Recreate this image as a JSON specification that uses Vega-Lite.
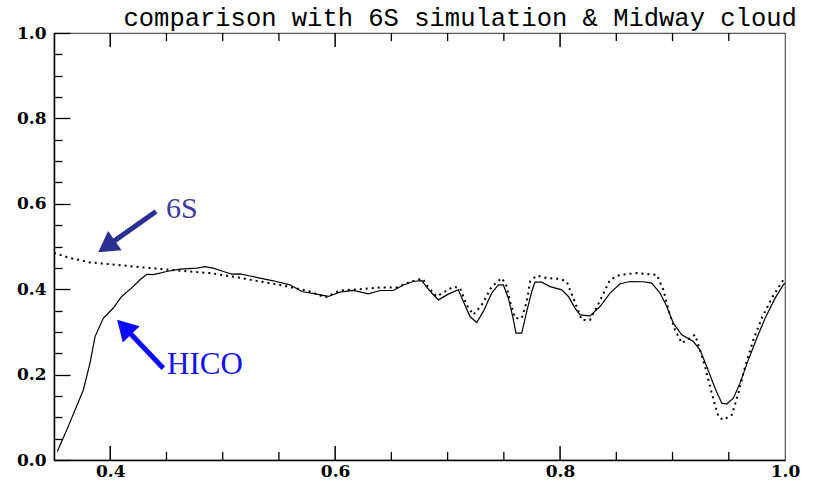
{
  "$schema": "https://vega.github.io/schema/vega-lite/v6.json",
  "width": 731,
  "height": 427,
  "autosize": {"type": "none"},
  "padding": {"left": 54, "top": 33, "right": 41, "bottom": 24},
  "background": "white",
  "title": {"text": "comparison with 6S simulation & Midway cloud", "anchor": "end", "dx": -3, "offset": -7, "font": "Liberation Mono", "fontSize": 25.5, "fontWeight": "normal", "color": "black"},
  "config": {
    "view": {"stroke": "#555", "strokeWidth": 1.2},
    "axis": {"grid": false, "domainColor": "black", "domainWidth": 1.5, "tickColor": "black", "tickWidth": 1.3, "labelFont": "DejaVu Serif", "labelFontWeight": "bold", "labelFontSize": 17, "labelColor": "black", "title": null}
  },
  "datasets": {
    "hico": [
      {"wl": 0.3529, "r": 0.020}, {"wl": 0.3613, "r": 0.070}, {"wl": 0.3687, "r": 0.117}, {"wl": 0.3761, "r": 0.164},
      {"wl": 0.382, "r": 0.227}, {"wl": 0.3865, "r": 0.289}, {"wl": 0.3938, "r": 0.332}, {"wl": 0.4027, "r": 0.356},
      {"wl": 0.4102, "r": 0.383}, {"wl": 0.4191, "r": 0.403}, {"wl": 0.4265, "r": 0.422}, {"wl": 0.4324, "r": 0.435},
      {"wl": 0.4383, "r": 0.434}, {"wl": 0.4502, "r": 0.4415}, {"wl": 0.462, "r": 0.447}, {"wl": 0.4769, "r": 0.4495},
      {"wl": 0.4843, "r": 0.453}, {"wl": 0.4917, "r": 0.4495}, {"wl": 0.5006, "r": 0.4415}, {"wl": 0.508, "r": 0.4354},
      {"wl": 0.5154, "r": 0.436}, {"wl": 0.5243, "r": 0.431}, {"wl": 0.5332, "r": 0.426}, {"wl": 0.545, "r": 0.4197},
      {"wl": 0.5599, "r": 0.4103}, {"wl": 0.5703, "r": 0.3946}, {"wl": 0.5836, "r": 0.3885}, {"wl": 0.5939, "r": 0.383},
      {"wl": 0.6043, "r": 0.393}, {"wl": 0.6162, "r": 0.397}, {"wl": 0.6295, "r": 0.389}, {"wl": 0.6399, "r": 0.397},
      {"wl": 0.6517, "r": 0.397}, {"wl": 0.6606, "r": 0.410}, {"wl": 0.6695, "r": 0.418}, {"wl": 0.677, "r": 0.420},
      {"wl": 0.6814, "r": 0.405}, {"wl": 0.6859, "r": 0.391}, {"wl": 0.6918, "r": 0.375}, {"wl": 0.7006, "r": 0.3885},
      {"wl": 0.7095, "r": 0.3986}, {"wl": 0.714, "r": 0.371}, {"wl": 0.7199, "r": 0.336}, {"wl": 0.7259, "r": 0.322},
      {"wl": 0.7318, "r": 0.348}, {"wl": 0.7392, "r": 0.391}, {"wl": 0.7451, "r": 0.410}, {"wl": 0.7496, "r": 0.410},
      {"wl": 0.754, "r": 0.379}, {"wl": 0.7579, "r": 0.336}, {"wl": 0.7608, "r": 0.297}, {"wl": 0.7659, "r": 0.297},
      {"wl": 0.7704, "r": 0.348}, {"wl": 0.7748, "r": 0.3946}, {"wl": 0.7777, "r": 0.4166}, {"wl": 0.7837, "r": 0.4166},
      {"wl": 0.7911, "r": 0.406}, {"wl": 0.8015, "r": 0.3986}, {"wl": 0.8074, "r": 0.383}, {"wl": 0.8133, "r": 0.3557},
      {"wl": 0.8178, "r": 0.340}, {"wl": 0.8266, "r": 0.3376}, {"wl": 0.8355, "r": 0.3595}, {"wl": 0.8444, "r": 0.391},
      {"wl": 0.8533, "r": 0.4127}, {"wl": 0.8622, "r": 0.418}, {"wl": 0.874, "r": 0.4174}, {"wl": 0.8815, "r": 0.4143},
      {"wl": 0.8889, "r": 0.391}, {"wl": 0.8949, "r": 0.3595}, {"wl": 0.9007, "r": 0.3205}, {"wl": 0.9082, "r": 0.293},
      {"wl": 0.9185, "r": 0.2774}, {"wl": 0.9244, "r": 0.258}, {"wl": 0.9304, "r": 0.219}, {"wl": 0.9378, "r": 0.168},
      {"wl": 0.9438, "r": 0.133}, {"wl": 0.9482, "r": 0.131}, {"wl": 0.9541, "r": 0.1447}, {"wl": 0.96, "r": 0.180},
      {"wl": 0.9674, "r": 0.2345}, {"wl": 0.9749, "r": 0.285}, {"wl": 0.9823, "r": 0.332}, {"wl": 0.9912, "r": 0.379},
      {"wl": 0.9985, "r": 0.410}, {"wl": 1.0, "r": 0.414}
    ],
    "sim": [
      {"wl": 0.35, "r": 0.485}, {"wl": 0.3642, "r": 0.473}, {"wl": 0.382, "r": 0.4627}, {"wl": 0.4058, "r": 0.457},
      {"wl": 0.4294, "r": 0.451}, {"wl": 0.4591, "r": 0.444}, {"wl": 0.4887, "r": 0.4377}, {"wl": 0.5125, "r": 0.428},
      {"wl": 0.5332, "r": 0.418}, {"wl": 0.551, "r": 0.410}, {"wl": 0.5643, "r": 0.4026}, {"wl": 0.5777, "r": 0.3946},
      {"wl": 0.591, "r": 0.3805}, {"wl": 0.6043, "r": 0.397}, {"wl": 0.6221, "r": 0.400}, {"wl": 0.6399, "r": 0.404},
      {"wl": 0.6548, "r": 0.404}, {"wl": 0.6637, "r": 0.414}, {"wl": 0.6725, "r": 0.422}, {"wl": 0.6779, "r": 0.424},
      {"wl": 0.6829, "r": 0.404}, {"wl": 0.6903, "r": 0.383}, {"wl": 0.6977, "r": 0.3946}, {"wl": 0.7051, "r": 0.406},
      {"wl": 0.711, "r": 0.4026}, {"wl": 0.717, "r": 0.363}, {"wl": 0.7229, "r": 0.340}, {"wl": 0.7303, "r": 0.363},
      {"wl": 0.7392, "r": 0.406}, {"wl": 0.7481, "r": 0.426}, {"wl": 0.752, "r": 0.410}, {"wl": 0.7555, "r": 0.371},
      {"wl": 0.76, "r": 0.332}, {"wl": 0.7659, "r": 0.332}, {"wl": 0.7704, "r": 0.371}, {"wl": 0.7733, "r": 0.418},
      {"wl": 0.7793, "r": 0.432}, {"wl": 0.7881, "r": 0.426}, {"wl": 0.80, "r": 0.424}, {"wl": 0.8059, "r": 0.418},
      {"wl": 0.8118, "r": 0.379}, {"wl": 0.8193, "r": 0.328}, {"wl": 0.8266, "r": 0.328}, {"wl": 0.834, "r": 0.365},
      {"wl": 0.8444, "r": 0.422}, {"wl": 0.8533, "r": 0.4338}, {"wl": 0.8682, "r": 0.4377}, {"wl": 0.886, "r": 0.4338},
      {"wl": 0.8918, "r": 0.3986}, {"wl": 0.8963, "r": 0.3517}, {"wl": 0.9022, "r": 0.3048}, {"wl": 0.9082, "r": 0.2736},
      {"wl": 0.9126, "r": 0.2814}, {"wl": 0.92, "r": 0.293}, {"wl": 0.9244, "r": 0.258}, {"wl": 0.9289, "r": 0.219},
      {"wl": 0.9349, "r": 0.156}, {"wl": 0.9408, "r": 0.1015}, {"wl": 0.9452, "r": 0.0938}, {"wl": 0.9527, "r": 0.1055},
      {"wl": 0.9585, "r": 0.156}, {"wl": 0.9645, "r": 0.219}, {"wl": 0.9719, "r": 0.2814}, {"wl": 0.9793, "r": 0.332},
      {"wl": 0.9882, "r": 0.379}, {"wl": 0.9985, "r": 0.422}, {"wl": 1.0, "r": 0.425}
    ],
    "xmajor": [{"t": 0.4}, {"t": 0.6}, {"t": 0.8}],
    "xminor": [{"t": 0.45}, {"t": 0.5}, {"t": 0.55}, {"t": 0.65}, {"t": 0.7}, {"t": 0.75}, {"t": 0.85}, {"t": 0.9}, {"t": 0.95}],
    "arrows": [
      {"label": "6S", "x": 0.4407, "y": 0.582, "x2": 0.3967, "y2": 0.5003},
      {"label": "HICO", "x": 0.4472, "y": 0.215, "x2": 0.4124, "y2": 0.3114}
    ],
    "labels": [
      {"label": "6S", "x": 0.4495, "y": 0.5885},
      {"label": "HICO", "x": 0.4505, "y": 0.2227}
    ]
  },
  "layer": [
    {
      "data": {"name": "hico"},
      "mark": {"type": "line", "color": "black", "strokeWidth": 1.2},
      "encoding": {
        "x": {"field": "wl", "type": "quantitative", "scale": {"domain": [0.35, 1.0], "nice": false, "zero": false},
          "axis": {"orient": "bottom", "values": [0.4, 0.6, 0.8, 1.0], "format": ".1f",
            "tickSize": -14, "tickOpacity": 0,
            "labelPadding": 17, "labelFlush": false, "labelOverlap": false}},
        "y": {"field": "r", "type": "quantitative", "scale": {"domain": [0, 1], "nice": false},
          "axis": {"orient": "left", "values": [0, 0.05, 0.1, 0.15, 0.2, 0.25, 0.3, 0.35, 0.4, 0.45, 0.5, 0.55, 0.6, 0.65, 0.7, 0.75, 0.8, 0.85, 0.9, 0.95, 1.0], "format": ".1f",
            "labelExpr": "round(datum.value*100) % 20 == 0 ? datum.label : ''",
            "tickSize": {"condition": {"test": "round(datum.value*100) % 20 == 0", "value": -16}, "value": -8},
            "labelPadding": 24, "labelFlush": false, "labelOverlap": false}}
      }
    },
    {
      "data": {"name": "sim"},
      "mark": {"type": "line", "color": "black", "strokeWidth": 2, "strokeDash": [2, 4]},
      "encoding": {
        "x": {"field": "wl", "type": "quantitative", "axis": null},
        "y": {"field": "r", "type": "quantitative", "axis": null}
      }
    },
    {
      "data": {"name": "xmajor"},
      "mark": {"type": "rule", "color": "black", "strokeWidth": 1.5},
      "encoding": {
        "x": {"field": "t", "type": "quantitative", "axis": null},
        "y": {"datum": 0, "type": "quantitative", "axis": null},
        "y2": {"datum": 0.033}
      }
    },
    {
      "data": {"name": "xmajor"},
      "mark": {"type": "rule", "color": "black", "strokeWidth": 1.5},
      "encoding": {
        "x": {"field": "t", "type": "quantitative", "axis": null},
        "y": {"datum": 1, "type": "quantitative", "axis": null},
        "y2": {"datum": 0.967}
      }
    },
    {
      "data": {"name": "xminor"},
      "mark": {"type": "rule", "color": "black", "strokeWidth": 1.3},
      "encoding": {
        "x": {"field": "t", "type": "quantitative", "axis": null},
        "y": {"datum": 0, "type": "quantitative", "axis": null},
        "y2": {"datum": 0.019}
      }
    },
    {
      "data": {"name": "xminor"},
      "mark": {"type": "rule", "color": "black", "strokeWidth": 1.3},
      "encoding": {
        "x": {"field": "t", "type": "quantitative", "axis": null},
        "y": {"datum": 1, "type": "quantitative", "axis": null},
        "y2": {"datum": 0.981}
      }
    },
    {
      "data": {"name": "arrows"},
      "mark": {"type": "rule", "strokeWidth": 5},
      "encoding": {
        "x": {"field": "x", "type": "quantitative", "axis": null},
        "y": {"field": "y", "type": "quantitative", "axis": null},
        "x2": {"field": "x2"},
        "y2": {"field": "y2"},
        "color": {"field": "label", "type": "nominal", "scale": {"domain": ["6S", "HICO"], "range": ["#2b2f92", "#0a0aff"]}, "legend": null}
      }
    },
    {
      "data": {"name": "arrows"},
      "transform": [{"filter": "datum.label == '6S'"}],
      "mark": {"type": "point", "shape": "triangle-up", "filled": true, "size": 550, "opacity": 1, "angle": 235, "color": "#2b2f92"},
      "encoding": {
        "x": {"field": "x2", "type": "quantitative", "axis": null},
        "y": {"field": "y2", "type": "quantitative", "axis": null}
      }
    },
    {
      "data": {"name": "arrows"},
      "transform": [{"filter": "datum.label == 'HICO'"}],
      "mark": {"type": "point", "shape": "triangle-up", "filled": true, "size": 550, "opacity": 1, "angle": 316, "color": "#0a0aff"},
      "encoding": {
        "x": {"field": "x2", "type": "quantitative", "axis": null},
        "y": {"field": "y2", "type": "quantitative", "axis": null}
      }
    },
    {
      "data": {"name": "labels"},
      "transform": [{"filter": "datum.label == '6S'"}],
      "mark": {"type": "text", "align": "left", "baseline": "middle", "font": "Liberation Serif", "fontSize": 30, "color": "#3a3a9e"},
      "encoding": {
        "x": {"field": "x", "type": "quantitative", "axis": null},
        "y": {"field": "y", "type": "quantitative", "axis": null},
        "text": {"field": "label"}
      }
    },
    {
      "data": {"name": "labels"},
      "transform": [{"filter": "datum.label == 'HICO'"}],
      "mark": {"type": "text", "align": "left", "baseline": "middle", "font": "Liberation Serif", "fontSize": 31, "color": "#1010f0"},
      "encoding": {
        "x": {"field": "x", "type": "quantitative", "axis": null},
        "y": {"field": "y", "type": "quantitative", "axis": null},
        "text": {"field": "label"}
      }
    }
  ],
  "resolve": {"axis": {"x": "independent", "y": "independent"}}
}
